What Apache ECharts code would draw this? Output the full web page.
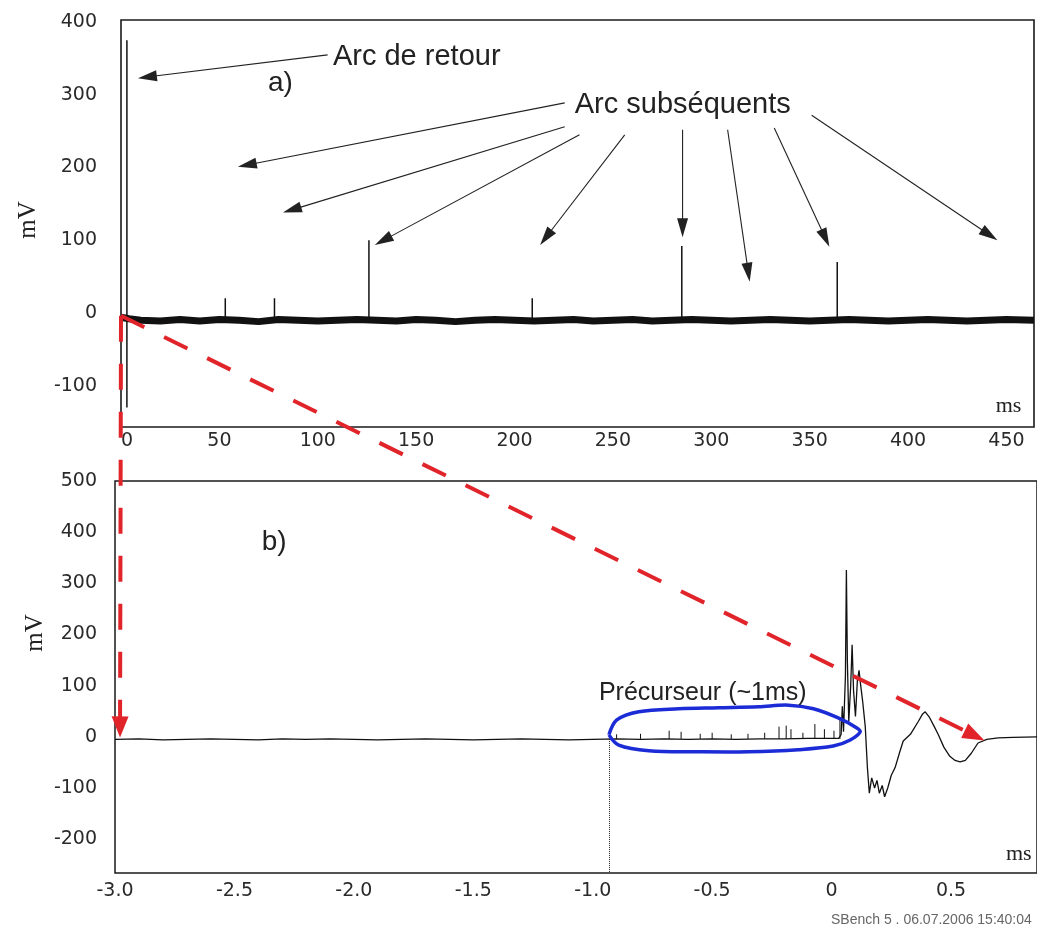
<!DOCTYPE html>
<html><head><meta charset="utf-8">
<script src="https://cdn.jsdelivr.net/npm/echarts@6/dist/echarts.min.js"></script>
<style>html,body{margin:0;padding:0;background:#fff}#c{width:1037px;height:928px}</style>
</head><body><div id="c"></div>
<script>
// ---- tick labels ----
const xTicksA = [0, 50, 100, 150, 200, 250, 300, 350, 400, 450];
const yTicksA = [-100, 0, 100, 200, 300, 400];
const xTicksB = [-3.0, -2.5, -2.0, -1.5, -1.0, -0.5, 0, 0.5];
const yTicksB = [-200, -100, 0, 100, 200, 300, 400, 500];

// ---- a) 460 ms record: baseline band (ms, mV) ----
const traceA = [[0,-6],[4,-8],[10,-10],[20,-11],[30,-9],[40,-11],[50,-9],[60,-10],[70,-12],[80,-9],[90,-10],[100,-11],[110,-10],[120,-9],[130,-10],[140,-11],[150,-9],[160,-10],[170,-12],[180,-10],[190,-9],[200,-10],[210,-11],[220,-10],[230,-9],[240,-11],[250,-10],[260,-9],[270,-11],[280,-10],[290,-9],[300,-10],[310,-11],[320,-10],[330,-9],[340,-10],[350,-11],[360,-10],[370,-9],[380,-10],[390,-11],[400,-10],[410,-9],[420,-10],[430,-11],[440,-10],[450,-9],[464,-10]];
// spikes: [ms, low mV, high mV]
const spikesA = [[3,-130,375],[53,-14,20],[78,-14,20],[126,-14,100],[209,-14,20],[285,-14,92],[364,-14,70]];

// ---- b) zoom on return stroke (ms, mV) ----
const traceB = [[-3.0,-5],[-2.9,-4],[-2.8,-6],[-2.7,-5],[-2.6,-4],[-2.5,-5],[-2.4,-6],[-2.3,-4],[-2.2,-5],[-2.1,-4],[-2.0,-5],[-1.9,-6],[-1.8,-5],[-1.7,-4],[-1.6,-5],[-1.5,-6],[-1.4,-5],[-1.3,-4],[-1.2,-5],[-1.1,-6],[-1.0,-5],[-0.9,-4],[-0.8,-5],[-0.7,-4],[-0.6,-5],[-0.5,-4],[-0.4,-5],[-0.3,-4],[-0.2,-4],[-0.1,-3],[0.0,-3],[0.030,-3],[0.040,5],[0.045,60],[0.050,10],[0.058,120],[0.062,326],[0.066,150],[0.072,30],[0.080,100],[0.086,180],[0.092,90],[0.100,40],[0.108,110],[0.115,130],[0.122,100],[0.130,70],[0.141,20],[0.150,-60],[0.158,-110],[0.168,-80],[0.180,-100],[0.190,-85],[0.200,-110],[0.212,-95],[0.222,-117],[0.235,-100],[0.250,-75],[0.266,-60],[0.285,-30],[0.300,-8],[0.330,5],[0.363,30],[0.380,44],[0.392,49],[0.410,38],[0.430,20],[0.446,5],[0.470,-20],[0.495,-38],[0.517,-46],[0.538,-49],[0.560,-46],[0.585,-32],[0.613,-12],[0.650,-5],[0.697,-2],[0.760,-1],[0.860,0]];
// precursor spikes: [ms, high mV]
const spikesB = [[-0.90,5],[-0.80,6],[-0.68,12],[-0.63,10],[-0.55,6],[-0.50,8],[-0.42,5],[-0.35,6],[-0.28,8],[-0.22,20],[-0.19,22],[-0.17,15],[-0.12,8],[-0.07,25],[-0.03,15],[0.01,12],[0.035,33]];
const baseB = -4;
const precursorOnset = -0.93;

// ---- annotations (data coordinates) ----
const arrowsA = [
  [[105,355],[8.6,323]],
  [[225.5,289],[59.4,201]],
  [[225.5,256],[82.3,138]],
  [[233,245],[129,93.5]],
  [[256,245],[213,93.5]],
  [[285.4,252],[285.4,104]],
  [[308.3,252],[319.5,43]],
  [[332,254.5],[360,91]],
  [[351,272],[445.4,100]]
];
const precursorOutline = [[-0.932,4],[-0.899,33],[-0.807,49],[-0.640,55],[-0.473,57],[-0.306,59],[-0.180,62],[-0.076,55],[0.028,37],[0.104,18],[0.120,10],[0.078,-6],[0.007,-18],[-0.139,-25],[-0.348,-29],[-0.556,-29],[-0.765,-27],[-0.891,-16],[-0.932,4]];

const chart = echarts.init(document.getElementById('c'), null, {renderer:'canvas'});
const lab = {fontSize:19, fontFamily:'DejaVu Sans', color:'#2a2a2a'};
function xAx(g, min, max, ticks, margin, fmt, extra){
  return Object.assign({gridIndex:g, type:'value', min, max, axisLine:{show:false}, axisTick:{show:false}, splitLine:{show:false},
    axisLabel:Object.assign({customValues:ticks, margin, formatter:fmt}, lab, extra||{})});
}
function yAx(g, min, max, ticks, margin){
  return {gridIndex:g, type:'value', min, max, axisLine:{show:false}, axisTick:{show:false}, splitLine:{show:false},
    axisLabel:Object.assign({customValues:ticks, margin}, lab)};
}
const series = [];
series.push({type:'line', xAxisIndex:0, yAxisIndex:0, data:traceA, showSymbol:false, lineStyle:{color:'#111', width:7}, z:3});
spikesA.forEach(s => series.push({type:'line', xAxisIndex:0, yAxisIndex:0, data:[[s[0],s[1]],[s[0],s[2]]], showSymbol:false, lineStyle:{color:'#111', width:1.5}, z:4}));
series.push({type:'line', xAxisIndex:1, yAxisIndex:1, data:traceB, showSymbol:false, lineStyle:{color:'#111', width:1.3}, z:3,
  markLine:{silent:true, symbol:['none','none'], label:{show:false}, lineStyle:{type:'dotted', color:'#222', width:1},
    data:[[{coord:[precursorOnset, baseB]},{coord:[precursorOnset, -266]}]]}});
spikesB.forEach(s => series.push({type:'line', xAxisIndex:1, yAxisIndex:1, data:[[s[0],baseB],[s[0],s[1]]], showSymbol:false, lineStyle:{color:'#111', width:1}, z:4}));

chart.setOption({
  animation:false,
  backgroundColor:'#fff',
  grid:[
    {left:121, top:20, width:913, height:407, show:true, borderColor:'#1a1a1a', borderWidth:1.6},
    {left:115, top:481, right:-3, height:392, show:true, borderColor:'#1a1a1a', borderWidth:1.5}
  ],
  xAxis:[
    xAx(0, 0, 464, xTicksA, 5, v => String(v), {alignMinLabel:'left'}),
    xAx(1, -3.0, 0.86, xTicksB, 9, v => v === 0 ? '0' : v.toFixed(1))
  ],
  yAxis:[ yAx(0, -157, 403, yTicksA, 24), yAx(1, -266, 500, yTicksB, 18) ],
  series
});

function P(g, p){ return chart.convertToPixel({gridIndex:g}, p); }
function arrow(p0, p1, color, width, headLen, headW, dash){
  const dx=p1[0]-p0[0], dy=p1[1]-p0[1], L=Math.hypot(dx,dy), ux=dx/L, uy=dy/L;
  const bx=p1[0]-ux*headLen, by=p1[1]-uy*headLen, nx=-uy, ny=ux;
  return [
    {type:'line', silent:true, z:100, shape:{x1:p0[0],y1:p0[1],x2:bx+ux*2,y2:by+uy*2}, style:{stroke:color, lineWidth:width, lineDash:dash||null}},
    {type:'polygon', silent:true, z:101, shape:{points:[[p1[0],p1[1]],[bx+nx*headW,by+ny*headW],[bx-nx*headW,by-ny*headW]]}, style:{fill:color}}
  ];
}
function txt(x, y, text, size, family, align, extra){
  return Object.assign({type:'text', silent:true, z:110, x, y, style:{text, fontSize:size, fontFamily:family, fill:'#222',
    textAlign:align, align:align, textVerticalAlign:'middle', verticalAlign:'middle'}}, extra||{});
}
const g = [];
arrowsA.forEach(a => g.push(...arrow(P(0,a[0]), P(0,a[1]), '#222', 1.1, 19, 5.5)));
const sans = '"Liberation Sans", Arial, sans-serif', serif = '"Liberation Serif", "Times New Roman", serif';
let q;
q = P(0,[107.7,352]); g.push(txt(q[0], q[1], 'Arc de retour', 29, sans, 'left'));
q = P(0,[74.7,316]); g.push(txt(q[0], q[1], 'a)', 28, sans, 'left'));
q = P(0,[230.6,286]); g.push(txt(q[0], q[1], 'Arc subséquents', 29, sans, 'left'));
q = P(0,[457.6,-129]); g.push(txt(q[0], q[1], 'ms', 22, serif, 'right'));
q = P(1,[-2.386,381]); g.push(txt(q[0], q[1], 'b)', 28, sans, 'left'));
q = P(1,[-0.974,86]); g.push(txt(q[0], q[1], 'Précurseur (~1ms)', 25, sans, 'left'));
q = P(1,[0.730,-230]); g.push(txt(q[0], q[1], 'ms', 22, serif, 'left'));
g.push(txt(28, 220, 'mV', 25, serif, 'center', {rotation:Math.PI/2}));
g.push(txt(35, 633, 'mV', 25, serif, 'center', {rotation:Math.PI/2}));
g.push(txt(831, 920, 'SBench 5 . 06.07.2006 15:40:04', 14, sans, 'left'));
g[g.length-1].style.fill = '#666';
// blue outline
g.push({type:'polyline', silent:true, z:105, shape:{points:precursorOutline.map(p => P(1,p)), smooth:0.35}, style:{stroke:'#1b2bd6', lineWidth:3.5, fill:null}});
// red dashed arrows from top trace start to bottom panel
const redStart = P(0,[0,-4]);
g.push(...arrow(redStart, P(1,[0.64,-7]), '#e0242a', 4, 22, 8, [26,22]));
g.push(...arrow(redStart, P(1,[-2.979,-1]), '#e0242a', 4, 21, 8.5, [26,22]));
chart.setOption({graphic:g});
</script>
</body></html>
